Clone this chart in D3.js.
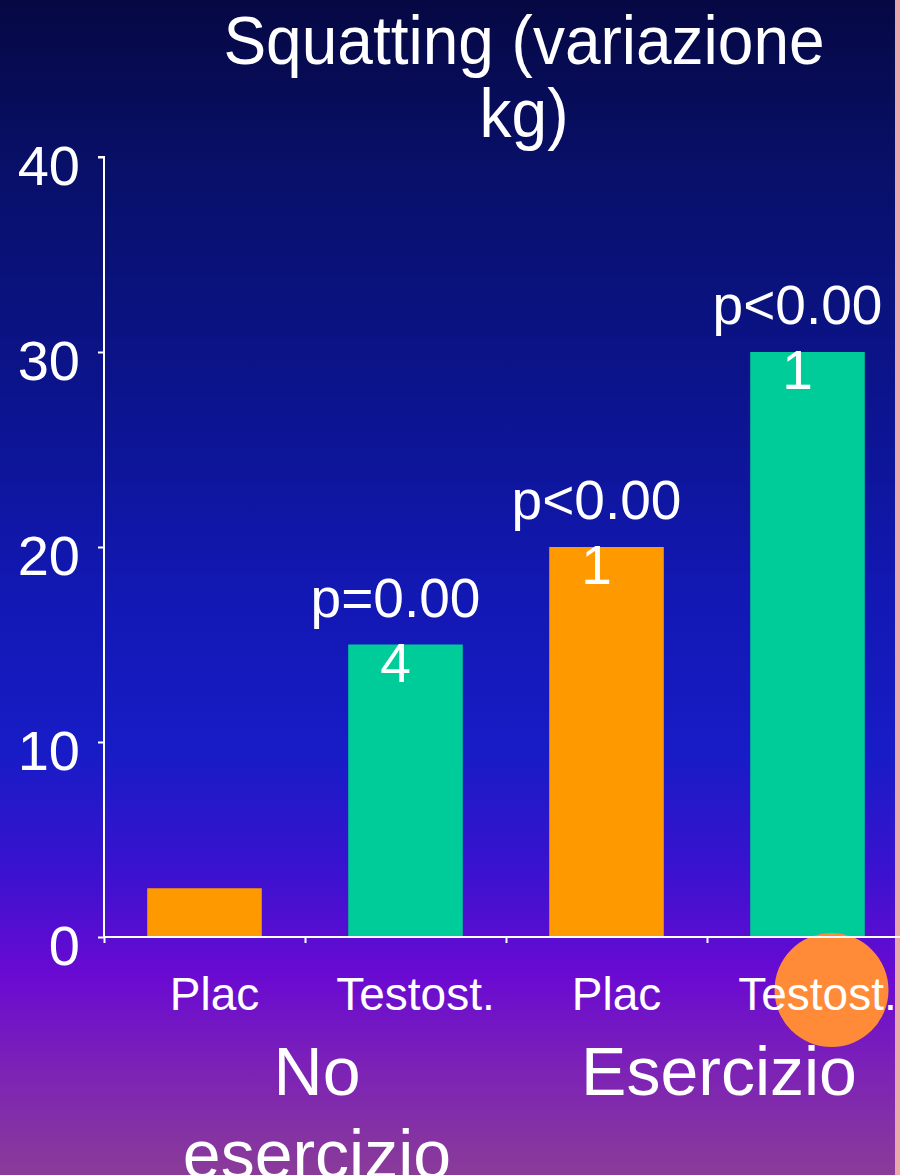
<!DOCTYPE html>
<html><head><meta charset="utf-8">
<script src="https://cdn.jsdelivr.net/npm/d3@7"></script>
<style>html,body{margin:0;padding:0;background:#000;}svg{display:block;font-family:Arial,"Liberation Sans",sans-serif;}</style>
</head><body>
<script>
const categories = ["Plac", "Testost.", "Plac", "Testost."];
const values = [2.5, 15, 20, 30];
const pLabels = [null, ["p=0.00", "4"], ["p<0.00", "1"], ["p<0.00", "1"]];
const groups = [["No", "esercizio"], ["Esercizio"]];
const yTicks = [0, 10, 20, 30, 40];
const titleLines = ["Squatting (variazione", "kg)"];
const barColors = ["#ff9900", "#00cc99", "#ff9900", "#00cc99"];

const W = 900, H = 1175;
const svg = d3.select("body").append("svg").attr("width", W).attr("height", H);
const defs = svg.append("defs");
const g = defs.append("linearGradient").attr("id", "bg").attr("x1", 0).attr("y1", 0).attr("x2", 0).attr("y2", 1);
[[0, "#060843"], [0.15, "#08106a"], [0.35, "#0c1490"], [0.5, "#1218b2"], [0.64, "#171cc6"], [0.74, "#3a12cf"], [0.83, "#6a0ad2"], [0.91, "#7c22b6"], [1, "#8a3c98"]]
  .forEach(([o, c]) => g.append("stop").attr("offset", o).attr("stop-color", c));
svg.append("rect").attr("width", W).attr("height", H).attr("fill", "url(#bg)");
svg.append("rect").attr("x", 895).attr("width", 5).attr("height", H).attr("fill", "#eaa9a8");

const x0 = 104, x1 = 908, yTop = 157, yBot = 937;
const x = d3.scaleBand().domain(d3.range(categories.length)).range([x0, x1]).paddingInner(0.43).paddingOuter(0.215);
const y = d3.scaleLinear().domain([0, 40]).range([yBot, yTop]);

// bars
svg.selectAll("rect.bar").data(values).join("rect").attr("class", "bar")
  .attr("x", (d, i) => x(i)).attr("width", x.bandwidth())
  .attr("y", d => y(d)).attr("height", d => yBot - y(d)).attr("fill", (d, i) => barColors[i]);

// orange highlight circle
svg.append("circle").attr("cx", x(3) + x.bandwidth() / 2 + 24).attr("cy", 990).attr("r", 57).attr("fill", "#ff8a38");

// y axis
const yAxis = svg.append("g").attr("transform", `translate(${x0},0)`)
  .call(d3.axisLeft(y).tickValues(yTicks).tickSize(6).tickPadding(16));
yAxis.select(".domain").attr("stroke", "#fff").attr("stroke-width", 2).attr("d", `M-6,${yTop}H0V${yBot}`);
yAxis.selectAll(".tick line").attr("stroke", "#fff").attr("stroke-width", 2);
yAxis.selectAll(".tick text").attr("fill", "#fff").attr("font-size", 56).attr("dy", "0.36em").attr("x", -24)
  .attr("transform", "translate(0,7)");

// x axis
const xb = d3.scaleLinear().domain([0, 4]).range([x0, x1]);
const xAxis = svg.append("g").attr("transform", `translate(0,${yBot})`)
  .call(d3.axisBottom(xb).tickValues([0, 1, 2, 3]).tickSize(6).tickFormat(""));
xAxis.select(".domain").attr("stroke", "#fff").attr("stroke-width", 2).attr("d", `M${x0},0H${W}`);
xAxis.selectAll(".tick line").attr("stroke", "#fff").attr("stroke-width", 2);

// category labels
svg.selectAll("text.cat").data(categories).join("text").attr("class", "cat")
  .attr("x", (d, i) => x(i) + x.bandwidth() / 2 + 10).attr("y", 1010)
  .attr("text-anchor", "middle").attr("fill", "#fff").attr("font-size", 46).text(d => d);

// group labels
groups.forEach((lines, gi) => {
  const cx = (xb(gi * 2) + xb(gi * 2 + 2)) / 2 + 12;
  const t = svg.append("text").attr("text-anchor", "middle").attr("fill", "#fff").attr("font-size", 68);
  lines.forEach((l, li) => t.append("tspan").attr("x", cx).attr("y", 1095 + li * 83).text(l));
});

// p-value labels
pLabels.forEach((lines, i) => {
  if (!lines) return;
  const cx = x(i) + x.bandwidth() / 2 - 10;
  const base = y(values[i]) - 28;
  const t = svg.append("text").attr("text-anchor", "middle").attr("fill", "#fff").attr("font-size", 55);
  lines.forEach((l, li) => t.append("tspan").attr("x", cx).attr("y", base + li * 65).text(l));
});

// title
const tt = svg.append("text").attr("text-anchor", "middle").attr("fill", "#fff").attr("font-size", 64)
  .attr("transform", "translate(524,0) scale(1,1.08)");
titleLines.forEach((l, li) => tt.append("tspan").attr("x", 0).attr("y", (64 + li * 73) / 1.08).text(l));
</script>
</body></html>
